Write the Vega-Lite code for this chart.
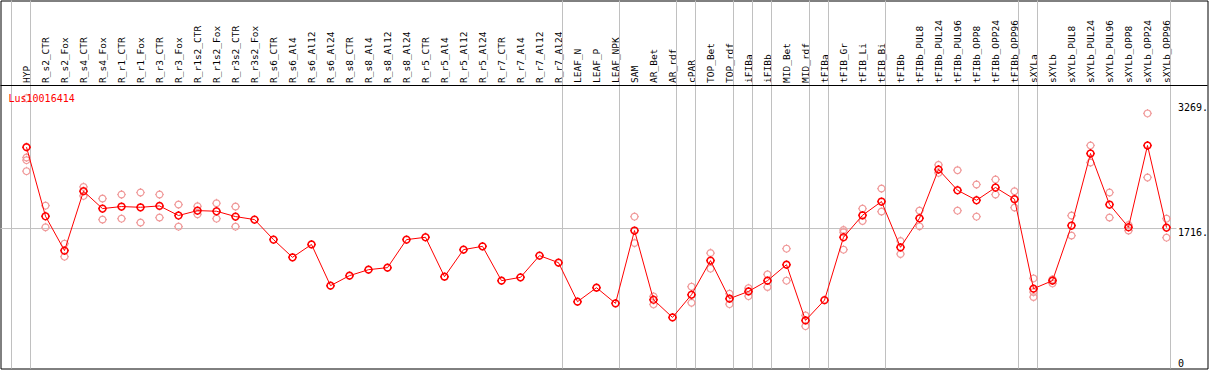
{
  "$schema": "https://vega.github.io/schema/vega-lite/v6.json",
  "width": 1207,
  "height": 368,
  "padding": {"left": 0.5, "top": 0.5, "right": 1.5, "bottom": 1.5},
  "autosize": {"type": "none"},
  "background": "white",
  "config": {
    "view": {"stroke": "black", "strokeWidth": 1},
    "font": "DejaVu Sans Mono"
  },
  "title": {
    "text": "Lus10016414",
    "color": "red",
    "font": "DejaVu Sans Mono",
    "fontSize": 10,
    "fontWeight": "normal",
    "anchor": "start",
    "frame": "group",
    "orient": "top",
    "offset": -112,
    "baseline": "alphabetic",
    "dx": 8
  },
  "datasets": {
    "seps": [
      {"cat": "HYP"}, {"cat": "R_r7_Al24"}, {"cat": "LEAF_NPK"}, {"cat": "AR_rdf"}, {"cat": "cPAR"},
      {"cat": "TOP_rdf"}, {"cat": "iFIBa"}, {"cat": "iFIBb"}, {"cat": "MID_rdf"}, {"cat": "tFIBa"},
      {"cat": "tFIB_Bi"}, {"cat": "tFIBb_OPP96"}, {"cat": "sXYLa"}, {"cat": "sXYLb_OPP96"}
    ],
    "means": [
      {"cat": "HYP", "v": 2723},
      {"cat": "R_s2_CTR", "v": 1868},
      {"cat": "R_s2_Fox", "v": 1443},
      {"cat": "R_s4_CTR", "v": 2178},
      {"cat": "R_s4_Fox", "v": 1963},
      {"cat": "R_r1_CTR", "v": 1988},
      {"cat": "R_r1_Fox", "v": 1979},
      {"cat": "R_r3_CTR", "v": 1996},
      {"cat": "R_r3_Fox", "v": 1877},
      {"cat": "R_r1s2_CTR", "v": 1938},
      {"cat": "R_r1s2_Fox", "v": 1930},
      {"cat": "R_r3s2_CTR", "v": 1864},
      {"cat": "R_r3s2_Fox", "v": 1827},
      {"cat": "R_s6_CTR", "v": 1579},
      {"cat": "R_s6_Al4", "v": 1360},
      {"cat": "R_s6_Al12", "v": 1519},
      {"cat": "R_s6_Al24", "v": 1009},
      {"cat": "R_s8_CTR", "v": 1133},
      {"cat": "R_s8_Al4", "v": 1207},
      {"cat": "R_s8_Al12", "v": 1232},
      {"cat": "R_s8_Al24", "v": 1579},
      {"cat": "R_r5_CTR", "v": 1608},
      {"cat": "R_r5_Al4", "v": 1120},
      {"cat": "R_r5_Al12", "v": 1455},
      {"cat": "R_r5_Al24", "v": 1496},
      {"cat": "R_r7_CTR", "v": 1071},
      {"cat": "R_r7_Al4", "v": 1112},
      {"cat": "R_r7_Al12", "v": 1381},
      {"cat": "R_r7_Al24", "v": 1294},
      {"cat": "LEAF_N", "v": 811},
      {"cat": "LEAF_P", "v": 984},
      {"cat": "LEAF_NPK", "v": 790},
      {"cat": "SAM", "v": 1691},
      {"cat": "AR_Bet", "v": 835},
      {"cat": "AR_rdf", "v": 616},
      {"cat": "cPAR", "v": 897},
      {"cat": "TOP_Bet", "v": 1319},
      {"cat": "TOP_rdf", "v": 848},
      {"cat": "iFIBa", "v": 938},
      {"cat": "iFIBb", "v": 1071},
      {"cat": "MID_Bet", "v": 1269},
      {"cat": "MID_rdf", "v": 579},
      {"cat": "tFIBa", "v": 830},
      {"cat": "tFIB_Gr", "v": 1608},
      {"cat": "tFIB_Li", "v": 1880},
      {"cat": "tFIB_Bi", "v": 2050},
      {"cat": "tFIBb", "v": 1484},
      {"cat": "tFIBb_PUL8", "v": 1843},
      {"cat": "tFIBb_PUL24", "v": 2447},
      {"cat": "tFIBb_PUL96", "v": 2190},
      {"cat": "tFIBb_OPP8", "v": 2066},
      {"cat": "tFIBb_OPP24", "v": 2224},
      {"cat": "tFIBb_OPP96", "v": 2079},
      {"cat": "sXYLa", "v": 972},
      {"cat": "sXYLb", "v": 1071},
      {"cat": "sXYLb_PUL8", "v": 1753},
      {"cat": "sXYLb_PUL24", "v": 2645},
      {"cat": "sXYLb_PUL96", "v": 2013},
      {"cat": "sXYLb_OPP8", "v": 1732},
      {"cat": "sXYLb_OPP24", "v": 2744},
      {"cat": "sXYLb_OPP96", "v": 1728}
    ],
    "reps": [
      {"cat": "HYP", "v": 3330}, {"cat": "HYP", "v": 2595}, {"cat": "HYP", "v": 2562}, {"cat": "HYP", "v": 2426},
      {"cat": "R_s2_CTR", "v": 2000}, {"cat": "R_s2_CTR", "v": 1732},
      {"cat": "R_s2_Fox", "v": 1529}, {"cat": "R_s2_Fox", "v": 1368},
      {"cat": "R_s4_CTR", "v": 2231}, {"cat": "R_s4_CTR", "v": 2120},
      {"cat": "R_s4_Fox", "v": 2087}, {"cat": "R_s4_Fox", "v": 1827},
      {"cat": "R_r1_CTR", "v": 2137}, {"cat": "R_r1_CTR", "v": 1839},
      {"cat": "R_r1_Fox", "v": 2162}, {"cat": "R_r1_Fox", "v": 1790},
      {"cat": "R_r3_CTR", "v": 2137}, {"cat": "R_r3_CTR", "v": 1852},
      {"cat": "R_r3_Fox", "v": 2013}, {"cat": "R_r3_Fox", "v": 1740},
      {"cat": "R_r1s2_CTR", "v": 1992}, {"cat": "R_r1s2_CTR", "v": 1893},
      {"cat": "R_r1s2_Fox", "v": 2029}, {"cat": "R_r1s2_Fox", "v": 1839},
      {"cat": "R_r3s2_CTR", "v": 1988}, {"cat": "R_r3s2_CTR", "v": 1740},
      {"cat": "SAM", "v": 1864}, {"cat": "SAM", "v": 1537},
      {"cat": "AR_Bet", "v": 876}, {"cat": "AR_Bet", "v": 777},
      {"cat": "cPAR", "v": 997}, {"cat": "cPAR", "v": 798},
      {"cat": "TOP_Bet", "v": 1413}, {"cat": "TOP_Bet", "v": 1220},
      {"cat": "TOP_rdf", "v": 910}, {"cat": "TOP_rdf", "v": 781},
      {"cat": "iFIBa", "v": 979}, {"cat": "iFIBa", "v": 880},
      {"cat": "iFIBb", "v": 1149}, {"cat": "iFIBb", "v": 992},
      {"cat": "MID_Bet", "v": 1467}, {"cat": "MID_Bet", "v": 1071},
      {"cat": "MID_rdf", "v": 641}, {"cat": "MID_rdf", "v": 508},
      {"cat": "tFIB_Gr", "v": 1698}, {"cat": "tFIB_Gr", "v": 1670}, {"cat": "tFIB_Gr", "v": 1455},
      {"cat": "tFIB_Li", "v": 1963}, {"cat": "tFIB_Li", "v": 1810},
      {"cat": "tFIB_Bi", "v": 2211}, {"cat": "tFIB_Bi", "v": 1926},
      {"cat": "tFIBb", "v": 1562}, {"cat": "tFIBb", "v": 1401},
      {"cat": "tFIBb_PUL8", "v": 1938}, {"cat": "tFIBb_PUL8", "v": 1744},
      {"cat": "tFIBb_PUL24", "v": 2504}, {"cat": "tFIBb_PUL24", "v": 2405},
      {"cat": "tFIBb_PUL96", "v": 2438}, {"cat": "tFIBb_PUL96", "v": 1938},
      {"cat": "tFIBb_OPP8", "v": 2261}, {"cat": "tFIBb_OPP8", "v": 1864},
      {"cat": "tFIBb_OPP24", "v": 2323}, {"cat": "tFIBb_OPP24", "v": 2137},
      {"cat": "tFIBb_OPP96", "v": 2178}, {"cat": "tFIBb_OPP96", "v": 1976},
      {"cat": "sXYLa", "v": 1099}, {"cat": "sXYLa", "v": 930}, {"cat": "sXYLa", "v": 868},
      {"cat": "sXYLb", "v": 1087}, {"cat": "sXYLb", "v": 1037},
      {"cat": "sXYLb_PUL8", "v": 1877}, {"cat": "sXYLb_PUL8", "v": 1629},
      {"cat": "sXYLb_PUL24", "v": 2744}, {"cat": "sXYLb_PUL24", "v": 2533},
      {"cat": "sXYLb_PUL96", "v": 2162}, {"cat": "sXYLb_PUL96", "v": 1852},
      {"cat": "sXYLb_OPP8", "v": 1760}, {"cat": "sXYLb_OPP8", "v": 1691},
      {"cat": "sXYLb_OPP24", "v": 3141}, {"cat": "sXYLb_OPP24", "v": 2348},
      {"cat": "sXYLb_OPP96", "v": 1839}, {"cat": "sXYLb_OPP96", "v": 1604}
    ]
  },
  "layer": [
    {
      "data": {"name": "seps"},
      "mark": {"type": "rule", "color": "#c0c0c0", "strokeWidth": 1, "xOffset": 4},
      "encoding": {
        "x": {
          "field": "cat", "type": "nominal",
          "scale": {
            "type": "point", "padding": 0, "range": [26, 1166],
            "domain": ["HYP","R_s2_CTR","R_s2_Fox","R_s4_CTR","R_s4_Fox","R_r1_CTR","R_r1_Fox","R_r3_CTR","R_r3_Fox","R_r1s2_CTR","R_r1s2_Fox","R_r3s2_CTR","R_r3s2_Fox","R_s6_CTR","R_s6_Al4","R_s6_Al12","R_s6_Al24","R_s8_CTR","R_s8_Al4","R_s8_Al12","R_s8_Al24","R_r5_CTR","R_r5_Al4","R_r5_Al12","R_r5_Al24","R_r7_CTR","R_r7_Al4","R_r7_Al12","R_r7_Al24","LEAF_N","LEAF_P","LEAF_NPK","SAM","AR_Bet","AR_rdf","cPAR","TOP_Bet","TOP_rdf","iFIBa","iFIBb","MID_Bet","MID_rdf","tFIBa","tFIB_Gr","tFIB_Li","tFIB_Bi","tFIBb","tFIBb_PUL8","tFIBb_PUL24","tFIBb_PUL96","tFIBb_OPP8","tFIBb_OPP24","tFIBb_OPP96","sXYLa","sXYLb","sXYLb_PUL8","sXYLb_PUL24","sXYLb_PUL96","sXYLb_OPP8","sXYLb_OPP24","sXYLb_OPP96"]
          },
          "axis": {
            "orient": "top", "offset": -84, "title": null,
            "domain": false, "ticks": false, "tickSize": 0, "grid": false,
            "labelAngle": -90, "labelAlign": "left", "labelBaseline": "middle",
            "labelPadding": 2, "labelFont": "DejaVu Sans Mono", "labelFontSize": 9.5,
            "labelColor": "black", "labelOverlap": false, "labelBound": false, "labelFlush": false
          }
        }
      }
    },
    {
      "data": {"values": [{"cat": "HYP"}]},
      "mark": {"type": "rule", "color": "#c0c0c0", "strokeWidth": 1, "xOffset": -15},
      "encoding": {"x": {"field": "cat", "type": "nominal"}}
    },
    {
      "data": {"values": [{"v": 1716}]},
      "mark": {"type": "rule", "color": "#c0c0c0", "strokeWidth": 1, "xOffset": -26, "x2Offset": 10},
      "encoding": {
        "y": {"field": "v", "type": "quantitative"},
        "x": {"datum": "HYP"},
        "x2": {"datum": "sXYLb_OPP96"}
      }
    },
    {
      "data": {"values": [{"v": 3486}]},
      "mark": {"type": "rule", "color": "black", "strokeWidth": 1},
      "encoding": {"y": {"field": "v", "type": "quantitative"}}
    },
    {
      "data": {"name": "reps"},
      "mark": {
        "type": "point", "filled": false, "color": "#f09a9a", "strokeWidth": 1.2, "opacity": 1,
        "shape": "M1,0L0.924,0.383L0.707,0.707L0.383,0.924L0,1L-0.383,0.924L-0.707,0.707L-0.924,0.383L-1,0L-0.924,-0.383L-0.707,-0.707L-0.383,-0.924L0,-1L0.383,-0.924L0.707,-0.707L0.924,-0.383ZM1,0L1.3,0M-1,0L-1.3,0M0,1L0,1.3M0,-1L0,-1.3",
        "size": 46
      },
      "encoding": {
        "x": {"field": "cat", "type": "nominal"},
        "y": {"field": "v", "type": "quantitative"}
      }
    },
    {
      "data": {"name": "means"},
      "mark": {"type": "line", "color": "red", "strokeWidth": 1},
      "encoding": {
        "x": {"field": "cat", "type": "nominal"},
        "y": {
          "field": "v", "type": "quantitative",
          "scale": {"domain": [-16, 4538], "nice": false, "zero": false},
          "axis": {
            "orient": "right", "offset": -31, "title": null,
            "values": [0, 1716, 3269],
            "labelExpr": "datum.value == 0 ? '0' : datum.value + '.'",
            "domain": false, "ticks": false, "tickSize": 0, "grid": false,
            "labelAlign": "left", "labelPadding": 1,
            "labelBaseline": {"condition": {"test": "datum.value == 0", "value": "alphabetic"}, "value": "top"},
            "labelOffset": -1,
            "labelFont": "DejaVu Sans Mono", "labelFontSize": 10, "labelColor": "black",
            "labelFlush": false, "labelOverlap": false, "labelBound": false
          }
        }
      }
    },
    {
      "data": {"name": "means"},
      "mark": {
        "type": "point", "filled": false, "color": "red", "strokeWidth": 1.5, "opacity": 1,
        "shape": "M1,0L0.924,0.383L0.707,0.707L0.383,0.924L0,1L-0.383,0.924L-0.707,0.707L-0.924,0.383L-1,0L-0.924,-0.383L-0.707,-0.707L-0.383,-0.924L0,-1L0.383,-0.924L0.707,-0.707L0.924,-0.383ZM1,0L1.3,0M-1,0L-1.3,0M0,1L0,1.3M0,-1L0,-1.3",
        "size": 46
      },
      "encoding": {
        "x": {"field": "cat", "type": "nominal"},
        "y": {"field": "v", "type": "quantitative"}
      }
    }
  ]
}
